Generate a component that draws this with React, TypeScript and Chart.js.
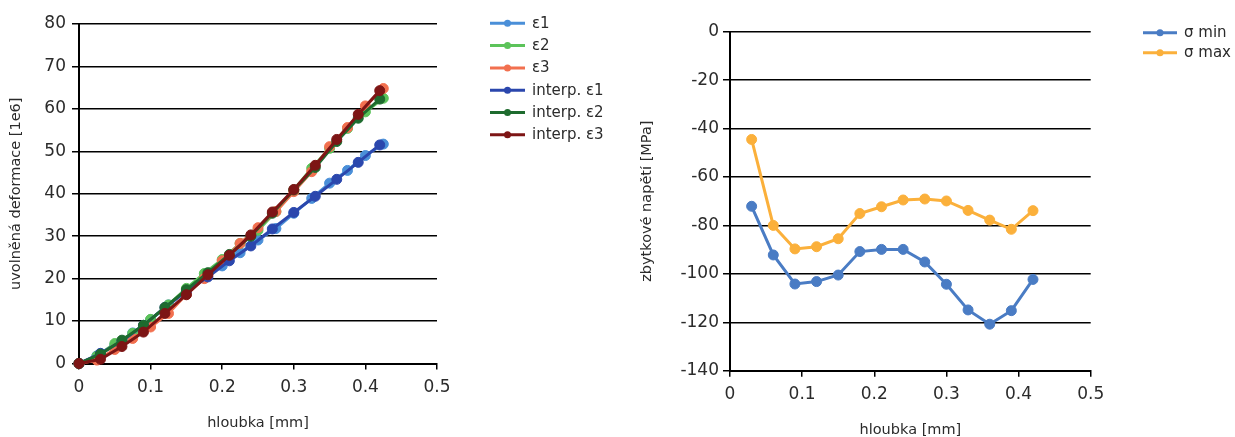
import { useEffect, useRef } from "react";
import { Chart, registerables } from "chart.js";

Chart.register(...registerables);

const FONT = "'DejaVu Sans', 'Liberation Sans', sans-serif";
const TEXT = "#2b2b2b";

// ---- left chart data ----
const depthMeasured = [0, 0.025, 0.05, 0.075, 0.1, 0.125, 0.15, 0.175, 0.2, 0.225, 0.25, 0.275, 0.3, 0.325, 0.35, 0.375, 0.4, 0.425];
const eps1 = [0, 1.8, 4.3, 7.2, 10.3, 13.8, 17.3, 20.3, 23.0, 26.1, 29.1, 31.8, 35.4, 38.9, 42.5, 45.5, 49.0, 51.7];
const eps2 = [0, 1.7, 4.7, 7.1, 10.4, 13.8, 17.7, 21.2, 24.5, 28.3, 31.4, 35.8, 40.9, 46.0, 50.7, 55.4, 59.3, 62.5];
const eps3 = [0, 0.8, 3.3, 5.9, 8.6, 11.8, 16.3, 20.0, 24.2, 28.3, 32.0, 35.8, 40.5, 45.2, 51.1, 55.6, 60.7, 64.8];

const depthInterp = [0, 0.03, 0.06, 0.09, 0.12, 0.15, 0.18, 0.21, 0.24, 0.27, 0.3, 0.33, 0.36, 0.39, 0.42];
const interp1 = [0, 2.4, 5.3, 9.0, 13.2, 17.0, 20.4, 24.2, 27.7, 31.7, 35.6, 39.4, 43.4, 47.4, 51.5];
const interp2 = [0, 2.2, 5.5, 9.0, 13.2, 17.4, 21.4, 25.7, 30.0, 35.4, 40.9, 46.2, 52.3, 57.8, 62.3];
const interp3 = [0, 1.0, 4.0, 7.4, 11.8, 16.2, 20.9, 25.5, 30.3, 35.7, 41.0, 46.7, 52.8, 58.7, 64.3];

const leftLabels = ["ε1", "ε2", "ε3", "interp. ε1", "interp. ε2", "interp. ε3"];
const leftColors = ["#4a8fd8", "#5cc35a", "#f2704f", "#2b47ad", "#1e6b2e", "#7d1515"];

const xTicksLeft = { min: 0, max: 0.5, step: 0.1 };
const yTicksLeft = { min: 0, max: 80, step: 10 };

// ---- right chart data ----
const depthStress = [0.03, 0.06, 0.09, 0.12, 0.15, 0.18, 0.21, 0.24, 0.27, 0.3, 0.33, 0.36, 0.39, 0.42];
const sigmaMin = [-72.1, -92.2, -104.2, -103.2, -100.5, -90.8, -89.9, -89.9, -95.1, -104.3, -114.9, -120.8, -115.2, -102.3];
const sigmaMax = [-44.5, -80.0, -89.7, -88.8, -85.5, -75.1, -72.3, -69.5, -69.1, -69.9, -73.8, -77.8, -81.6, -73.9];

const rightLabels = ["σ min", "σ max"];
const rightColors = ["#4a7cc4", "#fbb03b"];

const xTicksRight = { min: 0, max: 0.5, step: 0.1 };
const yTicksRight = { min: -140, max: 0, step: 20 };

const toXY = (xs: number[], ys: number[]) => xs.map((x, i) => ({ x, y: ys[i] }));
const fmt = (v: number | string) => String(Math.round(Number(v) * 1000) / 1000);

const lineLegend = {
  id: "lineLegend",
  afterDraw(chart: any, _args: any, opts: any) {
    const { ctx } = chart;
    ctx.save();
    chart.data.datasets.forEach((ds: any, i: number) => {
      const x = opts.x;
      const y = opts.y + i * opts.rowH;
      ctx.strokeStyle = ds.borderColor;
      ctx.lineWidth = 3;
      ctx.beginPath();
      ctx.moveTo(x, y);
      ctx.lineTo(x + opts.lineW, y);
      ctx.stroke();
      ctx.fillStyle = ds.borderColor;
      ctx.beginPath();
      ctx.arc(x + opts.lineW / 2, y, 3.5, 0, Math.PI * 2);
      ctx.fill();
      ctx.fillStyle = TEXT;
      ctx.font = `15px ${FONT}`;
      ctx.textBaseline = "middle";
      ctx.textAlign = "left";
      ctx.fillText(ds.label, x + opts.lineW + 7, y + 0.5);
    });
    ctx.restore();
  },
};

function makeDataset(label: string, color: string, data: { x: number; y: number }[], order: number) {
  return {
    label,
    data,
    borderColor: color,
    backgroundColor: color,
    pointBackgroundColor: color,
    pointBorderColor: color,
    pointBorderWidth: 1,
    pointRadius: 5,
    borderWidth: 3,
    tension: 0,
    clip: false as const,
    order,
  };
}

function makeConfig(p: {
  datasets: any[];
  xr: { min: number; max: number; step: number };
  yr: { min: number; max: number; step: number };
  yTitle: string;
  pad: { left: number; top: number; right: number; bottom: number };
  yWidth: number;
  xHeight: number;
  yTickPad: number;
  yTitlePad: number;
  xTitlePad: number;
  legend: { x: number; y: number; rowH: number; lineW: number };
}) {
  const tickFont = { family: FONT, size: 17 };
  const titleFont = { family: FONT, size: 14.5, lineHeight: 1 };
  return {
    type: "line" as const,
    data: { datasets: p.datasets },
    plugins: [lineLegend],
    options: {
      animation: false as const,
      responsive: false,
      devicePixelRatio: 1,
      layout: { padding: p.pad },
      plugins: {
        legend: { display: false },
        tooltip: { enabled: false },
        lineLegend: p.legend,
      },
      scales: {
        x: {
          type: "linear" as const,
          min: p.xr.min,
          max: p.xr.max,
          ticks: { stepSize: p.xr.step, color: TEXT, font: tickFont, padding: 8, callback: (v: any) => fmt(v) },
          grid: { drawOnChartArea: false, drawTicks: true, tickLength: 6, color: "#000", lineWidth: 1.5 },
          border: { display: true, color: "#000", width: 2 },
          title: { display: true, text: "hloubka [mm]", color: TEXT, font: titleFont, padding: { top: 0, bottom: p.xTitlePad } },
          afterFit: (s: any) => {
            s.height = p.xHeight;
          },
        },
        y: {
          type: "linear" as const,
          min: p.yr.min,
          max: p.yr.max,
          ticks: { stepSize: p.yr.step, color: TEXT, font: tickFont, padding: p.yTickPad, callback: (v: any) => fmt(v) },
          grid: { color: "#000", lineWidth: 1.5, tickLength: 7 },
          border: { display: true, color: "#000", width: 2 },
          title: { display: true, text: p.yTitle, color: TEXT, font: titleFont, padding: { top: p.yTitlePad, bottom: 0 } },
          afterFit: (s: any) => {
            s.width = p.yWidth;
          },
        },
      },
    },
  };
}

const leftSeries = [
  toXY(depthMeasured, eps1),
  toXY(depthMeasured, eps2),
  toXY(depthMeasured, eps3),
  toXY(depthInterp, interp1),
  toXY(depthInterp, interp2),
  toXY(depthInterp, interp3),
];

const rightSeries = [toXY(depthStress, sigmaMin), toXY(depthStress, sigmaMax)];

function ChartCanvas({ left, width, height, build }: { left: number; width: number; height: number; build: () => any }) {
  const ref = useRef<HTMLCanvasElement | null>(null);
  useEffect(() => {
    if (!ref.current) return;
    const chart = new Chart(ref.current, build());
    return () => chart.destroy();
  }, []);
  return (
    <canvas
      ref={ref}
      width={width}
      height={height}
      style={{ position: "absolute", left, top: 0, width, height, display: "block" }}
    />
  );
}

export default function App() {
  const buildLeft = () =>
    makeConfig({
      datasets: leftSeries.map((d, i) => makeDataset(leftLabels[i], leftColors[i], d, leftSeries.length - 1 - i)),
      xr: xTicksLeft,
      yr: yTicksLeft,
      yTitle: "uvolněná deformace [1e6]",
      pad: { left: 0, top: 24, right: 640 - 437, bottom: 0 },
      yWidth: 79,
      xHeight: 437 - 363.5,
      yTickPad: 6,
      yTitlePad: 8.5,
      xTitlePad: 6.5,
      legend: { x: 490, y: 23.3, rowH: 22.3, lineW: 35 },
    });
  const buildRight = () =>
    makeConfig({
      datasets: rightSeries.map((d, i) => makeDataset(rightLabels[i], rightColors[i], d, rightSeries.length - 1 - i)),
      xr: xTicksRight,
      yr: yTicksRight,
      yTitle: "zbytkové napětí [MPa]",
      pad: { left: 0, top: 31.7, right: 595 - 450.7, bottom: 0 },
      yWidth: 90,
      xHeight: 437 - 370.7,
      yTickPad: 4,
      yTitlePad: 0,
      xTitlePad: 0,
      legend: { x: 503, y: 32.7, rowH: 20, lineW: 34 },
    });
  return (
    <div style={{ position: "absolute", left: 0, top: 0, width: 1235, height: 437, background: "#fff", overflow: "hidden" }}>
      <ChartCanvas left={0} width={640} height={437} build={buildLeft} />
      <ChartCanvas left={640} width={595} height={437} build={buildRight} />
    </div>
  );
}
